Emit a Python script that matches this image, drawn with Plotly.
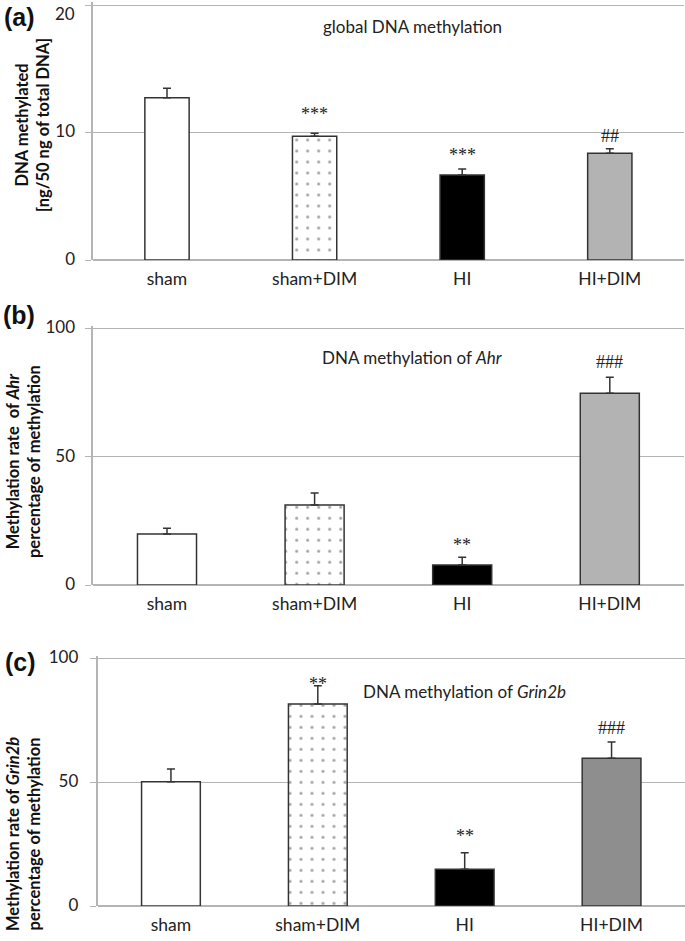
import plotly.graph_objects as go

categories = ["sham", "sham+DIM", "HI", "HI+DIM"]

# Panel (a) global DNA methylation
a_values = [12.73, 9.70, 6.67, 8.37]
a_err = [0.74, 0.24, 0.47, 0.36]
a_marks = ["", "***", "***", "##"]
a_mark_y = [None, 11.45, 8.25, 9.75]
a_ticks = [0, 10, 20]

# Panel (b) Ahr
b_values = [19.9, 31.2, 7.8, 74.7]
b_err = [2.2, 4.6, 3.0, 6.2]
b_marks = ["", "", "**", "###"]
b_mark_y = [None, None, 15.7, 87.0]
b_ticks = [0, 50, 100]

# Panel (c) Grin2b
c_values = [50.2, 81.5, 14.8, 59.6]
c_err = [5.1, 7.4, 6.7, 6.6]
c_marks = ["", "**", "**", "###"]
c_mark_y = [None, 89.8, 28.4, 72.0]
c_ticks = [0, 50, 100]

W, H = 685, 941
FONT = "Lato"
EDGE = "#333333"
GRID = "#b4b4b4"
TICKFONT = dict(family=FONT, size=17, color="#222")

fig = go.Figure()

panels = [
    dict(vals=a_values, err=a_err, marks=a_marks, my=a_mark_y, xa="x", ya="y",
         colors=["white", "white", "black", "#b3b3b3"], bw=0.30, ticks=a_ticks,
         top=2.45, bot=260, left=93.2, rng=[0, 20.2], so=7),
    dict(vals=b_values, err=b_err, marks=b_marks, my=b_mark_y, xa="x2", ya="y2",
         colors=["white", "white", "black", "#b3b3b3"], bw=0.40, ticks=b_ticks,
         top=325.7, bot=585, left=93.2, rng=[0, 101], so=7),
    dict(vals=c_values, err=c_err, marks=c_marks, my=c_mark_y, xa="x3", ya="y3",
         colors=["white", "white", "black", "#8e8e8e"], bw=0.40, ticks=c_ticks,
         top=655.8, bot=906, left=97.5, rng=[0, 101], so=8),
]

for i, p in enumerate(panels):
    fig.add_trace(go.Bar(
        x=categories, y=p["vals"], xaxis=p["xa"], yaxis=p["ya"], width=p["bw"],
        marker=dict(color=p["colors"], line=dict(color=EDGE, width=1.5),
                    pattern=dict(shape=["", ".", "", ""], fgcolor="#000000",
                                 bgcolor="white", size=11, solidity=0.06,
                                 fillmode="overlay")),
        error_y=dict(type="data", symmetric=False, array=p["err"],
                     arrayminus=[0, 0, 0, 0], color=EDGE, thickness=1.5, width=4),
        showlegend=False, hoverinfo="skip"))
    sfx = "" if i == 0 else str(i + 1)
    dom_y = [1 - p["bot"] / H, 1 - p["top"] / H]
    dom_x = [p["left"] / W, min(1.0, (p["left"] + 4 * 147.6) / W)]
    ticktext = [str(t) for t in p["ticks"]]
    if i == 0:
        ticktext[-1] = ""  # top label drawn separately so it stays inside the page
    fig.update_layout(**{
        "xaxis" + sfx: dict(domain=dom_x, anchor="y" + sfx, showgrid=False,
                            showline=False, ticks="", zeroline=False, automargin=False,
                            tickfont=dict(family=FONT, size=17.5, color="#222"),
                            ticklabelstandoff=6),
        "yaxis" + sfx: dict(domain=dom_y, anchor="x" + sfx, range=p["rng"],
                            tickmode="array", tickvals=p["ticks"], ticktext=ticktext,
                            showgrid=True, gridcolor=GRID, gridwidth=1.2, automargin=False,
                            showline=True, linecolor=GRID, linewidth=1.5,
                            zeroline=True, zerolinecolor=GRID, zerolinewidth=1.5,
                            ticks="outside", ticklen=6, tickcolor=GRID, tickwidth=1.2,
                            ticklabelstandoff=p["so"], ticklabelshift=-1,
                            tickfont=TICKFONT),
    })
    for k, (m, yy) in enumerate(zip(p["marks"], p["my"])):
        if m:
            fig.add_annotation(x=k, y=yy, xref=p["xa"], yref=p["ya"], text=m,
                               showarrow=False,
                               font=dict(family="Liberation Serif", size=18, color="#222"))

# top tick label of panel (a)
fig.add_annotation(x=77 / W, y=a_ticks[-1], xref="paper", yref="y", text=str(a_ticks[-1]),
                   showarrow=False, xanchor="right", yanchor="top", yshift=4,
                   font=TICKFONT)

# panel titles
fig.add_annotation(x=1.66, y=18.3, xref="x", yref="y", text="global DNA methylation",
                   showarrow=False, font=dict(family=FONT, size=17, color="#222"))
fig.add_annotation(x=1.66, y=88.5, xref="x2", yref="y2", text="DNA methylation of <i>Ahr</i>",
                   showarrow=False, font=dict(family=FONT, size=17, color="#222"))
fig.add_annotation(x=2.0, y=86.4, xref="x3", yref="y3", text="DNA methylation of <i>Grin2b</i>",
                   showarrow=False, font=dict(family=FONT, size=17, color="#222"))

# y-axis titles
ytitles = [
    ("<b>DNA methylated<br>[ng/50 ng of total DNA]</b>", 33, 125),
    ("<b>Methylation rate  of <i>Ahr</i><br>percentage of methylation</b>", 23, 462),
    ("<b>Methylation rate of <i>Grin2b</i><br>percentage of methylation</b>", 23, 834),
]
for t, px, py in ytitles:
    fig.add_annotation(x=px / W, y=1 - py / H, xref="paper", yref="paper", text=t,
                       textangle=-90, showarrow=False, xanchor="center", yanchor="middle",
                       font=dict(family=FONT, size=16.5, color="#111"))

# panel letters
for lab, px, py in [("(a)", 19, 17), ("(b)", 19, 315), ("(c)", 20, 662)]:
    fig.add_annotation(x=px / W, y=1 - py / H, xref="paper", yref="paper", text="<b>" + lab + "</b>",
                       showarrow=False, xanchor="center", yanchor="middle",
                       font=dict(family="Liberation Sans", size=25, color="#111"))

fig.update_layout(width=W, height=H, margin=dict(l=0, r=0, t=0, b=0, autoexpand=False),
                  plot_bgcolor="white", paper_bgcolor="white", bargap=0.3)
fig.write_html("out.html", config={"displayModeBar": False},
               post_script="document.body.style.margin='0';")
